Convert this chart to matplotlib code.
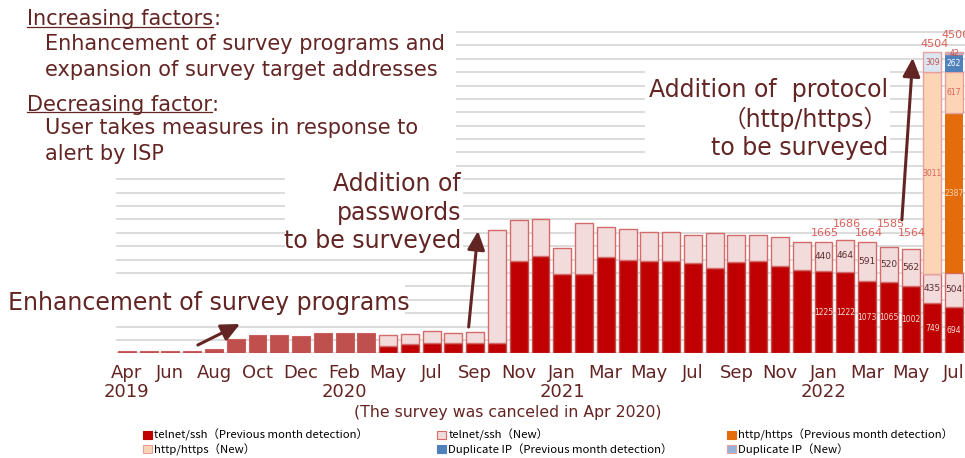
import numpy as np
import matplotlib.pyplot as plt
from matplotlib.patches import Patch, Rectangle
from matplotlib.lines import Line2D

plt.rcParams["font.family"] = ["DejaVu Sans", "Noto Sans CJK JP"]

TEXT_COLOR = "#632523"
LABEL_RED = "#D9605A"
W, H = 965, 458

# Apr 2019 - Mar 2020 (total only)
early_total = [30, 30, 30, 30, 65, 210, 275, 275, 262, 300, 300, 300]

# May 2020 - Jul 2022 (the survey was canceled in Apr 2020)
telnet_prev = [110, 135, 160, 150, 150, 150, 1375, 1455, 1185, 1185, 1435, 1400,
               1380, 1375, 1355, 1280, 1365, 1385, 1305, 1250, 1225, 1222, 1073,
               1065, 1002, 749, 694]
telnet_new = [165, 155, 175, 155, 165, 1695, 615, 545, 385, 755, 445, 455, 435,
              440, 415, 510, 400, 380, 430, 410, 440, 464, 591, 520, 562, 435, 504]

# protocol added to the survey: Jun 2022, Jul 2022
http_prev = [0, 2387]
http_new = [3011, 617]
dup_prev = [0, 262]
dup_new = [309, 42]
dup_new_colors = ["#DCE6F2", "#95B3D7"]

tick_labels = ["Apr\n2019", "Jun", "Aug", "Oct", "Dec", "Feb\n2020", "May", "Jul",
               "Sep", "Nov", "Jan\n2021", "Mar", "May", "Jul", "Sep", "Nov",
               "Jan\n2022", "Mar", "May", "Jul"]
n_labeled = 7  # months with value labels (Jan 2022 -)


def fig_text(px, py, s, **kw):
    kw.setdefault("color", TEXT_COLOR)
    kw.setdefault("va", "baseline")
    return fig.text(px / W, 1 - py / H, s, **kw)


def white_box(px, py, w, h):
    fig.add_artist(Rectangle((px / W, 1 - (py + h) / H), w / W, h / H,
                             transform=fig.transFigure, facecolor="white",
                             edgecolor="none", zorder=1))


fig = plt.figure(figsize=(W / 100, H / 100), dpi=100)
ymax = 4810
ax = fig.add_axes([116 / W, (H - 353.3) / H, 849 / W, 321.3 / 4800 * ymax / H])

x_early = np.arange(len(early_total))
x_main = np.arange(len(telnet_prev)) + len(early_total)
x_new = x_main[-len(http_prev):]

tp = np.array(telnet_prev)
tn = np.array(telnet_new)
totals = tp + tn

ax.bar(x_early, early_total, width=0.82, color="#C0504D", edgecolor="#C9605D", lw=0.8)
ax.bar(x_main, tp, width=0.82, color="#C00000", edgecolor="#C0504D", lw=1)
ax.bar(x_main, tn, bottom=tp, width=0.82, color="#F2DCDB", edgecolor="#D46A6A", lw=1)

b = totals[-len(http_prev):].astype(float)
ax.bar(x_new, http_prev, bottom=b, width=0.82, color="#E46C0A", edgecolor="none")
b = b + http_prev
ax.bar(x_new, http_new, bottom=b, width=0.82, color="#FCD5B5", edgecolor="#E6A0A0", lw=1)
b = b + http_new
ax.bar(x_new, dup_prev, bottom=b, width=0.82, color="#4F81BD", edgecolor="none")
b = b + dup_prev
ax.bar(x_new, dup_new, bottom=b, width=0.82, color=dup_new_colors, edgecolor="#E6A0A0", lw=1)
top_new = b + dup_new

grand = totals.astype(float)
grand[-len(http_prev):] = top_new

# value labels
for k in range(n_labeled):
    i = len(tp) - n_labeled + k
    x = x_main[i]
    ax.text(x, tp[i] / 2, f"{tp[i]}", ha="center", va="center", fontsize=5.5, color="#F2DCDB")
    ax.text(x, tp[i] + tn[i] / 2, f"{tn[i]}", ha="center", va="center", fontsize=6.5,
            color="#5B2C2C")
    big = grand[i] > 3000
    high = (i == len(tp) - 1) if big else (k % 2 == 1)
    base = grand[i] if big else 1690
    ax.text(x + 0.08, base + (245 if high else 110), f"{int(grand[i])}", ha="center",
            va="center", fontsize=8, color=LABEL_RED)

segs = [(http_prev, "#FCD5B5"), (http_new, LABEL_RED), (dup_prev, "white"), (dup_new, "#C0504D")]
bot = totals[-len(http_prev):].astype(float)
for vals, c in segs:
    for j, v in enumerate(vals):
        if v > 0:
            ax.text(x_new[j], bot[j] + v / 2, f"{v}", ha="center", va="center",
                    fontsize=5.5, color=c)
    bot = bot + vals

ax.set_xlim(-0.5, len(early_total) + len(tp) - 0.5)
ax.set_ylim(0, ymax)
ax.set_yticks(np.arange(0, 4801, 200))
ax.set_xticks(np.arange(0, len(early_total) + len(tp), 2))
ax.set_xticklabels(tick_labels, fontsize=13, color=TEXT_COLOR, linespacing=1.05)
ax.tick_params(axis="x", length=0, pad=8)
ax.tick_params(axis="y", length=0, labelleft=False)
ax.grid(axis="y", color="#D9D9D9", lw=1.3)
ax.set_axisbelow(True)
for s in ax.spines.values():
    s.set_visible(False)

# arrows
arrow = dict(arrowstyle="-|>,head_length=0.75,head_width=0.35", color=TEXT_COLOR, lw=2.2,
             shrinkA=0, shrinkB=0, mutation_scale=15)
ax.annotate("", xy=(5.2, 438), xytext=(3.26, 124), arrowprops=arrow)
ax.annotate("", xy=(16.13, 1828), xytext=(15.7, 393), arrowprops=arrow)
ax.annotate("", xy=(36.1, 4414), xytext=(35.6, 1993), arrowprops=arrow)

# white backgrounds behind annotation texts
white_box(0, 0, 456, 172)
white_box(285, 172, 178, 83)
white_box(0, 278, 405, 42)
white_box(645, 65, 245, 96)

renderer = fig.canvas.get_renderer()
for py, head in [(25, "Increasing factors"), (110.7, "Decreasing factor")]:
    t = fig_text(27, py, head, fontsize=15)
    bb = t.get_window_extent(renderer=renderer)
    fig_text(bb.x1, py, ":", fontsize=15)
    fig.add_artist(Line2D([bb.x0 / W, bb.x1 / W], [1 - (py + 1.5) / H] * 2,
                          transform=fig.transFigure, color=TEXT_COLOR, lw=0.9))
fig_text(45, 50, "Enhancement of survey programs and", fontsize=15)
fig_text(45, 76, "expansion of survey target addresses", fontsize=15)
fig_text(45, 134, "User takes measures in response to", fontsize=15)
fig_text(45, 160, "alert by ISP", fontsize=15)

fig_text(461, 191, "Addition of", fontsize=17, ha="right")
fig_text(461, 220, "passwords", fontsize=17, ha="right")
fig_text(461, 248, "to be surveyed", fontsize=17, ha="right")
fig_text(8, 310, "Enhancement of survey programs", fontsize=17)
fig_text(888, 96.7, "Addition of  protocol", fontsize=17, ha="right")
fig_text(888, 126.7, "（http/https）", fontsize=17, ha="right")
fig_text(888, 155, "to be surveyed", fontsize=17, ha="right")

fig_text(508, 412, "(The survey was canceled in Apr 2020)", fontsize=11.3, ha="center",
         va="center")

# legend, three columns
entries = [
    ("telnet/ssh（Previous month detection）", "#C00000", "#C00000"),
    ("telnet/ssh（New）", "#F2DCDB", "#D46A6A"),
    ("http/https（Previous month detection）", "#E46C0A", "#E46C0A"),
    ("http/https（New）", "#FCD5B5", "#E6A0A0"),
    ("Duplicate IP（Previous month detection）", "#4F81BD", "#4F81BD"),
    ("Duplicate IP（New）", "#95B3D7", "#E6A0A0"),
]
for col, px in enumerate([143, 437, 727]):
    items = [entries[col], entries[col + 3]]
    handles = [Patch(facecolor=fc, edgecolor=ec, lw=0.8) for _, fc, ec in items]
    fig.legend(handles, [lab for lab, _, _ in items], loc="upper left",
               bbox_to_anchor=(px / W, 1 - 429 / H), frameon=False,
               prop={"family": ["Noto Sans CJK JP"], "size": 8.2},
               handlelength=0.75, handleheight=0.75, handletextpad=0.25,
               labelspacing=0.2, borderpad=0, borderaxespad=0)

fig.savefig("out.png", dpi=100)
